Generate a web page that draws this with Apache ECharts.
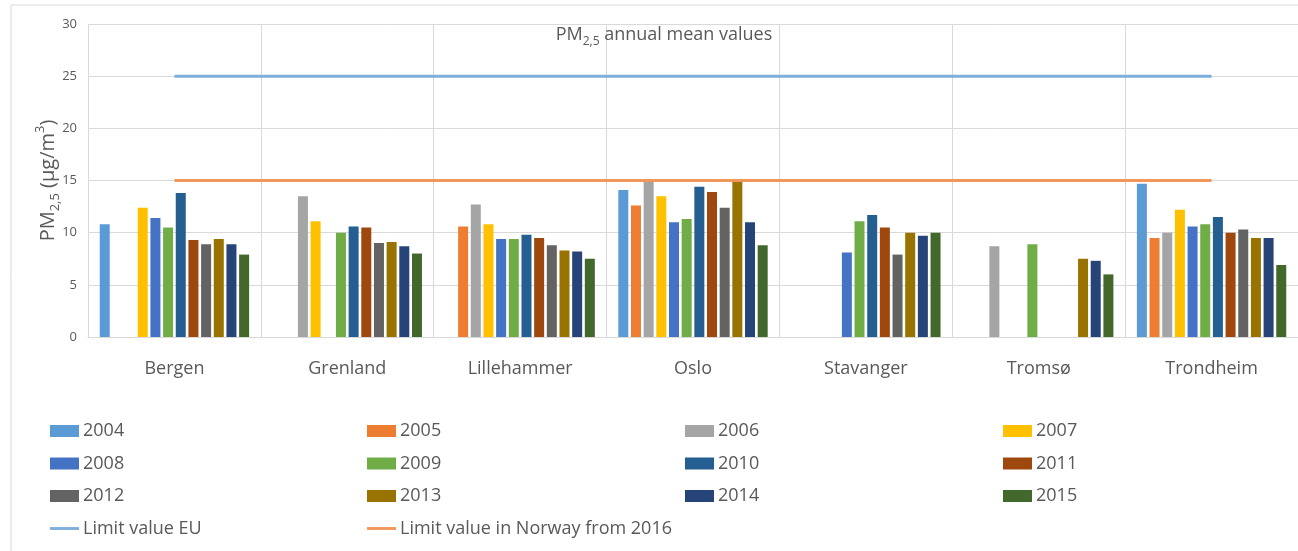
<!DOCTYPE html>
<html>
<head>
<meta charset="utf-8">
<script src="https://cdn.jsdelivr.net/npm/echarts@6/dist/echarts.min.js"></script>
<style>
  html, body { margin: 0; padding: 0; background: #fff; }
  #chart { width: 1298px; height: 551px; }
</style>
</head>
<body>
<div id="chart"></div>
<script>
const cities = ['Bergen', 'Grenland', 'Lillehammer', 'Oslo', 'Stavanger', 'Tromsø', 'Trondheim'];
const years = ['2004', '2005', '2006', '2007', '2008', '2009', '2010', '2011', '2012', '2013', '2014', '2015'];

// PM2,5 annual means per year, one value per city (null = no measurement)
const pm2004 = [10.8, null, null, 14.1, null, null, 14.7];
const pm2005 = [null, null, 10.6, 12.6, null, null, 9.5];
const pm2006 = [null, 13.5, 12.7, 14.9, null, 8.7, 10.0];
const pm2007 = [12.4, 11.1, 10.8, 13.5, null, null, 12.2];
const pm2008 = [11.4, null, 9.4, 11.0, 8.1, null, 10.6];
const pm2009 = [10.5, 10.0, 9.4, 11.3, 11.1, 8.9, 10.8];
const pm2010 = [13.8, 10.6, 9.8, 14.4, 11.7, null, 11.5];
const pm2011 = [9.3, 10.5, 9.5, 13.9, 10.5, null, 10.0];
const pm2012 = [8.9, 9.0, 8.8, 12.4, 7.9, null, 10.3];
const pm2013 = [9.4, 9.1, 8.3, 14.9, 10.0, 7.5, 9.5];
const pm2014 = [8.9, 8.7, 8.2, 11.0, 9.7, 7.3, 9.5];
const pm2015 = [7.9, 8.0, 7.5, 8.8, 10.0, 6.0, 6.9];

const euLimit = [25, 25, 25, 25, 25, 25, 25];
const norwayLimit = [15, 15, 15, 15, 15, 15, 15];

const yearValues = [pm2004, pm2005, pm2006, pm2007, pm2008, pm2009, pm2010, pm2011, pm2012, pm2013, pm2014, pm2015];
const yearColors = ['#5B9BD5', '#ED7D31', '#A5A5A5', '#FFC000', '#4472C4', '#70AD47',
  '#255E91', '#9E480E', '#636363', '#997300', '#264478', '#43682B'];

const euName = 'Limit value EU';
const noName = 'Limit value in Norway from 2016';
const font = 'Open Sans';
const textColor = '#595959';

const chart = echarts.init(document.getElementById('chart'));

const barSeries = years.map((y, i) => ({
  name: y,
  type: 'bar',
  data: yearValues[i],
  barWidth: 10,
  barGap: '26.7%',
  itemStyle: { color: yearColors[i] },
}));

const lineSeries = [
  { name: euName, data: euLimit, color: '#7CAFDD' },
  { name: noName, data: norwayLimit, color: '#F1975A' },
].map(s => ({
  name: s.name,
  type: 'line',
  data: s.data,
  symbol: 'none',
  z: 5,
  itemStyle: { color: s.color },
  lineStyle: { color: s.color, width: 3 },
}));

// flat bar used as legend icon for the two limit lines
const lineIcon = 'path://M0,0L30,0L30,3L0,3Z';

const legendCol = (left, names) => ({
  orient: 'vertical',
  left,
  top: 421,
  padding: 0,
  itemWidth: 29,
  itemHeight: 12,
  itemGap: 12.5,
  textStyle: { fontFamily: font, fontSize: 18, color: textColor, lineHeight: 20, padding: [0, 0, 0, -1] },
  data: names.map(n => ({ name: n, icon: years.includes(n) ? 'rect' : lineIcon })),
});

chart.setOption({
  animation: false,
  textStyle: { fontFamily: font },
  title: {
    text: 'PM{sub|2,5} annual mean values',
    left: 664,
    textAlign: 'center',
    top: 22,
    padding: 0,
    textStyle: {
      fontFamily: font, fontSize: 18, fontWeight: 'normal', color: textColor, lineHeight: 26,
      rich: {
        sub: { fontFamily: font, fontSize: 12, color: textColor, verticalAlign: 'bottom', lineHeight: 12 },
      },
    },
  },
  graphic: [{
    type: 'rect',
    shape: { x: 11, y: 5, width: 1300, height: 560 },
    style: { fill: 'none', stroke: '#D9D9D9', lineWidth: 1 },
    silent: true,
  }],
  legend: [
    legendCol(50, ['2004', '2008', '2012', euName]),
    legendCol(367, ['2005', '2009', '2013', noName]),
    legendCol(685, ['2006', '2010', '2014']),
    legendCol(1003, ['2007', '2011', '2015']),
  ],
  grid: { left: 88, width: 1212, top: 24, bottom: 214 },
  xAxis: {
    type: 'category',
    data: cities,
    axisTick: { show: false },
    axisLine: { lineStyle: { color: '#D9D9D9' } },
    axisLabel: { fontFamily: font, fontSize: 18, color: textColor, margin: 23 },
    splitLine: { show: true, lineStyle: { color: '#D9D9D9' } },
  },
  yAxis: {
    type: 'value',
    min: 0,
    max: 30,
    interval: 5,
    name: 'PM{sub|2,5} (µg/m{sup|3})',
    nameLocation: 'middle',
    nameGap: 26,
    nameMoveOverlap: false,
    nameRotate: 90,
    nameTextStyle: {
      fontFamily: font, fontSize: 20, color: textColor, lineHeight: 28,
      rich: {
        sub: { fontFamily: font, fontSize: 13, color: textColor, verticalAlign: 'bottom', lineHeight: 13 },
        sup: { fontFamily: font, fontSize: 13, color: textColor, verticalAlign: 'top', lineHeight: 13 },
      },
    },
    axisLabel: { fontFamily: font, fontSize: 13, color: textColor, margin: 11 },
    axisLine: { show: false },
    axisTick: { show: false },
    splitLine: { lineStyle: { color: '#D9D9D9' } },
  },
  series: [...barSeries, ...lineSeries],
});
</script>
</body>
</html>
